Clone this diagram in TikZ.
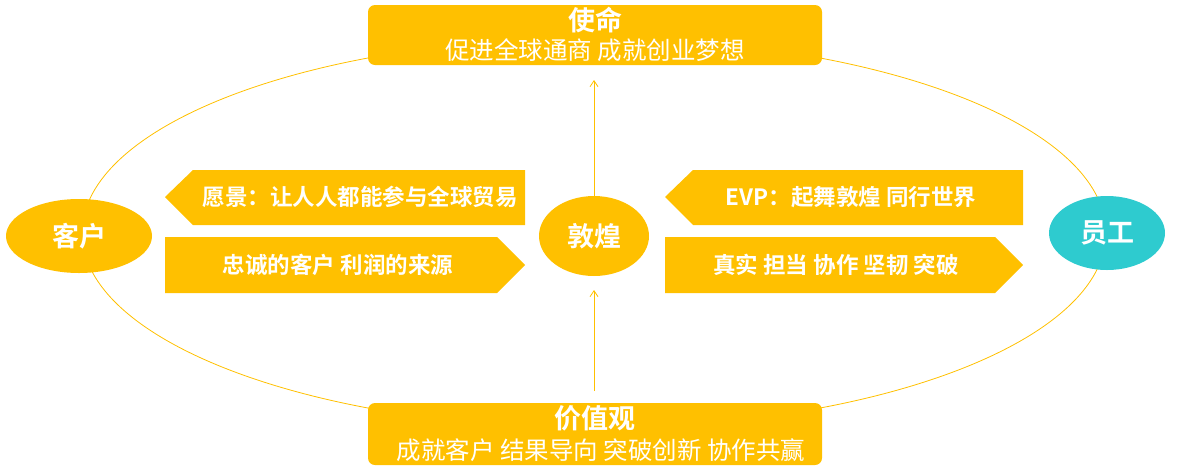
\documentclass[tikz,border=0pt]{standalone}
\usepackage{fontspec}
\usetikzlibrary{shapes.geometric,arrows.meta}
\setmainfont{Noto Sans CJK SC}
\newfontfamily\cjkb{Noto Sans CJK SC Bold}
\definecolor{gold}{HTML}{FFC000}
\definecolor{teal}{HTML}{2ECBCF}
\begin{document}
\begin{tikzpicture}[x=1pt,y=-1pt,
  box/.style={fill=gold,rounded corners=7pt,text=white,align=center,inner sep=0pt},
  oval/.style={ellipse,fill=gold,text=white,font=\cjkb\fontsize{27}{27}\selectfont,inner sep=0pt},
  lbl/.style={text=white,font=\cjkb\fontsize{22.5}{22.5}\selectfont},
  arr/.style={draw=gold,line width=0.8pt,-{Straight Barb[length=6pt,width=8pt]}}]
\useasboundingbox (0,0) rectangle (1201,472);
\draw[gold,line width=0.8pt] (594,233) ellipse [x radius=512, y radius=195];
\node[box,minimum width=454pt,minimum height=60pt] (top) at (595,35) {};
\node[text=white,font=\cjkb\fontsize{27}{27}\selectfont] (t1) at (595,20) {使命};
\node[text=white,font=\fontsize{24.5}{24.5}\selectfont] (t2) at (595,50) {促进全球通商 成就创业梦想};
\node[box,minimum width=454pt,minimum height=62pt] (bot) at (595,434) {};
\node[text=white,font=\cjkb\fontsize{27}{27}\selectfont] (b1) at (595,418) {价值观};
\node[text=white,font=\fontsize{24.5}{24.5}\selectfont] (b2) at (601,450) {成就客户 结果导向 突破创新 协作共赢};
\node[oval,minimum width=146pt,minimum height=74pt] (kh) at (79,236) {客户};
\node[oval,minimum width=110pt,minimum height=80pt] (dh) at (594,236) {敦煌};
\node[oval,fill=teal,minimum width=116pt,minimum height=74pt] (yg) at (1107,233) {员工};
\coordinate (a1) at (594,80); \coordinate (a2) at (594,391); \coordinate (a3) at (594,290);
\draw[arr] (dh.north) -- (a1);
\draw[arr] (a2) -- (a3);
\fill[gold] (165,197) -- (193,170) -- (525,170) -- (525,225) -- (193,225) -- cycle;
\fill[gold] (165,237) -- (497,237) -- (525,265) -- (497,293) -- (165,293) -- cycle;
\fill[gold] (665,197) -- (693,170) -- (1023,170) -- (1023,225) -- (693,225) -- cycle;
\fill[gold] (665,237) -- (995,237) -- (1023,265) -- (995,293) -- (665,293) -- cycle;
\node[lbl] (l1) at (360,197) {愿景：让人人都能参与全球贸易};
\node[lbl] (l2) at (338,265) {忠诚的客户 利润的来源};
\node[lbl] (l3) at (851,197) {EVP：起舞敦煌 同行世界};
\node[lbl] (l4) at (836,265) {真实 担当 协作 坚韧 突破};
\end{tikzpicture}
\end{document}
